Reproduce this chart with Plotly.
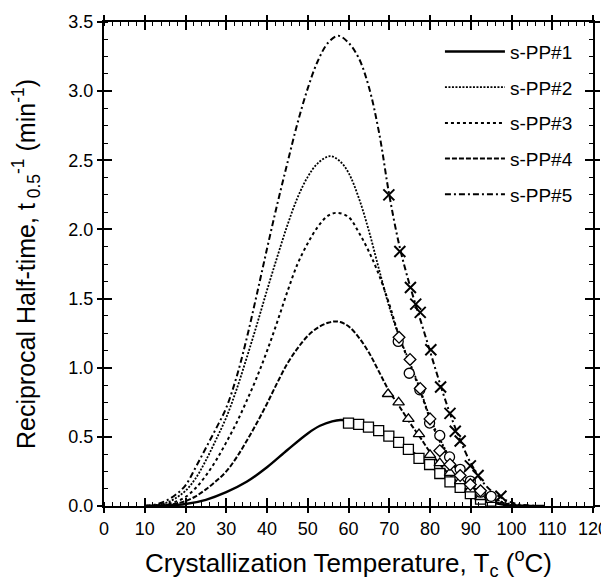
import plotly.graph_objects as go

# ---------------- fitted curves ----------------
c1_x = [10, 15, 20, 25, 30, 35, 40, 45, 50, 53, 56, 58, 60, 62.5, 65, 67.5, 70, 72.5, 75, 77.5, 80,
        82.5, 85, 87.5, 90, 92.5, 95, 97.5, 100, 103, 108]
c1_y = [0, 0.003, 0.014, 0.045, 0.1, 0.175, 0.28, 0.405, 0.525, 0.58, 0.612, 0.622, 0.618, 0.598,
        0.573, 0.543, 0.505, 0.46, 0.405, 0.35, 0.292, 0.232, 0.175, 0.127, 0.087, 0.053, 0.028,
        0.012, 0.004, 0.001, 0]

c2_x = [10, 12.5, 15, 17.5, 20, 22.5, 25, 27.5, 30, 32.5, 35, 37.5, 40, 42.5, 45, 47.5, 50, 52.5,
        55.5, 58, 60, 62.5, 65, 67.5, 70, 72.5, 75, 77.5, 80, 82.5, 85, 87.5, 90, 92.5, 95, 97.5,
        100, 103, 108]
c2_y = [0, 0.006, 0.02, 0.055, 0.11, 0.2, 0.33, 0.48, 0.64, 0.84, 1.07, 1.31, 1.56, 1.80, 2.03,
        2.23, 2.38, 2.48, 2.53, 2.49, 2.41, 2.23, 1.99, 1.71, 1.44, 1.22, 1.04, 0.85, 0.64, 0.48,
        0.345, 0.245, 0.165, 0.105, 0.062, 0.032, 0.013, 0.003, 0]

c3_x = [10, 12.5, 15, 17.5, 20, 22.5, 25, 27.5, 30, 32.5, 35, 37.5, 40, 42.5, 45, 47.5, 50, 52.5,
        55, 57.2, 60, 62.5, 65, 67.5, 70, 72.5, 75, 77.5, 80, 82.5, 85, 87.5, 90, 92.5, 95, 97.5,
        100, 103, 108]
c3_y = [0, 0.004, 0.012, 0.03, 0.065, 0.13, 0.22, 0.33, 0.46, 0.6, 0.76, 0.93, 1.12, 1.33, 1.55,
        1.75, 1.90, 2.02, 2.10, 2.12, 2.09, 1.98, 1.84, 1.67, 1.46, 1.22, 1.03, 0.84, 0.63, 0.46,
        0.33, 0.23, 0.15, 0.09, 0.05, 0.025, 0.01, 0.002, 0]

c4_x = [10, 12.5, 15, 17.5, 20, 22.5, 25, 27.5, 30, 32.5, 35, 37.5, 40, 42.5, 45, 47.5, 50, 52.5,
        55, 56.7, 58, 60, 62.5, 65, 67.5, 70, 72.5, 75, 77.5, 80, 82.5, 85, 87.5, 90, 92.5, 95,
        97.5, 100, 103, 108]
c4_y = [0, 0.002, 0.006, 0.016, 0.035, 0.07, 0.12, 0.18, 0.25, 0.35, 0.47, 0.6, 0.74, 0.89, 1.03,
        1.14, 1.23, 1.29, 1.325, 1.335, 1.33, 1.30, 1.22, 1.11, 0.97, 0.83, 0.72, 0.605, 0.50,
        0.39, 0.30, 0.22, 0.155, 0.10, 0.062, 0.035, 0.017, 0.006, 0.001, 0]

c5_x = [10, 12.5, 15, 17.5, 20, 22.5, 25, 27.5, 30, 32.5, 35, 37.5, 40, 42.5, 45, 47.5, 50, 52.5,
        55, 57.5, 60, 62.5, 65, 67.5, 70, 72.5, 75, 77.5, 80, 82.5, 85, 87.5, 90, 92.5, 95, 97.5,
        100, 102.5, 105, 108]
c5_y = [0, 0.01, 0.035, 0.08, 0.15, 0.28, 0.42, 0.56, 0.71, 0.93, 1.21, 1.53, 1.86, 2.18, 2.48,
        2.77, 3.02, 3.22, 3.35, 3.40, 3.35, 3.24, 3.03, 2.70, 2.25, 1.88, 1.60, 1.36, 1.12, 0.88,
        0.66, 0.47, 0.31, 0.19, 0.11, 0.06, 0.025, 0.008, 0.002, 0]

# ---------------- measured points ----------------
sq_x = [60.0, 62.5, 64.9, 67.4, 69.9, 72.3, 74.7, 77.3, 79.9, 82.4, 84.9, 87.4, 89.9, 92.4, 94.9]
sq_y = [0.60, 0.59, 0.57, 0.545, 0.505, 0.46, 0.41, 0.345, 0.30, 0.235, 0.175, 0.135, 0.09, 0.05, 0.035]

ci_x = [72.2, 74.9, 77.5, 79.9, 82.4, 84.8, 87.4, 89.9, 92.4, 95.0]
ci_y = [1.19, 0.96, 0.84, 0.60, 0.51, 0.355, 0.265, 0.18, 0.10, 0.07]

di_x = [72.4, 75.1, 77.6, 80.0, 82.4, 84.9, 87.4, 89.9, 92.4]
di_y = [1.22, 1.06, 0.85, 0.63, 0.40, 0.30, 0.22, 0.155, 0.11]

tr_x = [69.7, 72.3, 74.7, 77.3, 80.0, 82.4, 84.9, 87.4, 89.9, 92.4, 95.0]
tr_y = [0.81, 0.75, 0.63, 0.52, 0.37, 0.31, 0.24, 0.18, 0.12, 0.065, 0.045]

xx_x = [69.9, 72.6, 75.2, 76.5, 77.6, 80.2, 82.6, 84.9, 86.2, 87.4, 89.9, 91.8, 97.4]
xx_y = [2.25, 1.84, 1.58, 1.46, 1.40, 1.13, 0.86, 0.67, 0.54, 0.47, 0.29, 0.22, 0.07]

names = ["s-PP#1", "s-PP#2", "s-PP#3", "s-PP#4", "s-PP#5"]
x_ticks = list(range(0, 121, 10))
y_ticks = [0.0, 0.5, 1.0, 1.5, 2.0, 2.5, 3.0, 3.5]

FONT = "Liberation Sans, Arial, sans-serif"

fig = go.Figure()

curves = [(c1_x, c1_y, "solid", 2.4), (c2_x, c2_y, "2px,1.5px", 1.8), (c3_x, c3_y, "3px,3px", 2.0),
          (c4_x, c4_y, "5px,2px", 2.0), (c5_x, c5_y, "6px,3px,2px,3px", 2.0)]
for i, (cx, cy, dash, w) in enumerate(curves):
    fig.add_trace(go.Scatter(x=cx, y=cy, mode="lines", name=names[i],
                             line=dict(color="black", width=w, dash=dash, shape="spline"),
                             legendgroup=str(i)))

def add_pts(px, py, sym, size, lw=1.3):
    fig.add_trace(go.Scatter(x=px, y=py, mode="markers", showlegend=False,
                             marker=dict(symbol=sym, size=size, color="white",
                                         line=dict(color="black", width=lw))))

add_pts(sq_x, sq_y, "square", 10)
add_pts(tr_x, tr_y, "triangle-up", 10)
add_pts(ci_x, ci_y, "circle", 10)
add_pts(di_x, di_y, "diamond", 9)
fig.add_trace(go.Scatter(x=xx_x, y=xx_y, mode="markers", showlegend=False,
                         marker=dict(symbol="x-thin", size=11, color="black",
                                     line=dict(color="black", width=2))))

# helper trace for the overlay axes (inner part of the major ticks)
fig.add_trace(go.Scatter(x=[0], y=[0], xaxis="x2", yaxis="y2", mode="markers",
                         marker=dict(size=0.1, color="rgba(0,0,0,0)"), showlegend=False,
                         hoverinfo="skip"))

axis_common = dict(showgrid=False, zeroline=False, showline=True, linecolor="black",
                   linewidth=2, mirror="ticks", ticks="outside", ticklen=5, tickwidth=1.5,
                   tickcolor="black", automargin=False,
                   tickfont=dict(family=FONT, size=18, color="black"))

# the page body adds an 8 px offset, so the figure is 8 px smaller on each far side
fig.update_layout(
    width=601, height=576,
    paper_bgcolor="white", plot_bgcolor="white",
    margin=dict(l=96, r=16, t=14, b=78, autoexpand=False),
    font=dict(family=FONT, color="black"),
    xaxis=dict(range=[0, 120], tickvals=x_ticks, ticktext=[str(v) for v in x_ticks],
               minor=dict(dtick=2, ticks="inside", ticklen=4, tickwidth=1.2, tickcolor="black"),
               title=dict(text="Crystallization Temperature, T<sub>c</sub> (<sup>o</sup>C)",
                          font=dict(family=FONT, size=26), standoff=16),
               **axis_common),
    yaxis=dict(range=[0, 3.5], tickvals=y_ticks, ticktext=[f"{v:.1f}" for v in y_ticks],
               minor=dict(dtick=0.125, ticks="inside", ticklen=4, tickwidth=1.2, tickcolor="black"),
               title=dict(text="Reciprocal Half-time, t<sub> 0.5</sub><sup>-1</sup> (min<sup>-1</sup>)",
                          font=dict(family=FONT, size=25), standoff=26),
               **axis_common),
    xaxis2=dict(overlaying="x", matches="x", range=[0, 120], tickvals=x_ticks, ticks="inside",
                ticklen=8, tickwidth=1.5, tickcolor="black", showticklabels=False,
                mirror="ticks", showline=False, showgrid=False, zeroline=False, side="bottom"),
    yaxis2=dict(overlaying="y", matches="y", range=[0, 3.5], tickvals=y_ticks, ticks="inside",
                ticklen=8, tickwidth=1.5, tickcolor="black", showticklabels=False,
                mirror="ticks", showline=False, showgrid=False, zeroline=False, side="left"),
    legend=dict(x=0.687, y=0.978, xanchor="left", yanchor="top", bgcolor="rgba(0,0,0,0)",
                font=dict(family=FONT, size=19), itemwidth=60, tracegroupgap=8),
    showlegend=True,
)

fig.write_html("out.html")
